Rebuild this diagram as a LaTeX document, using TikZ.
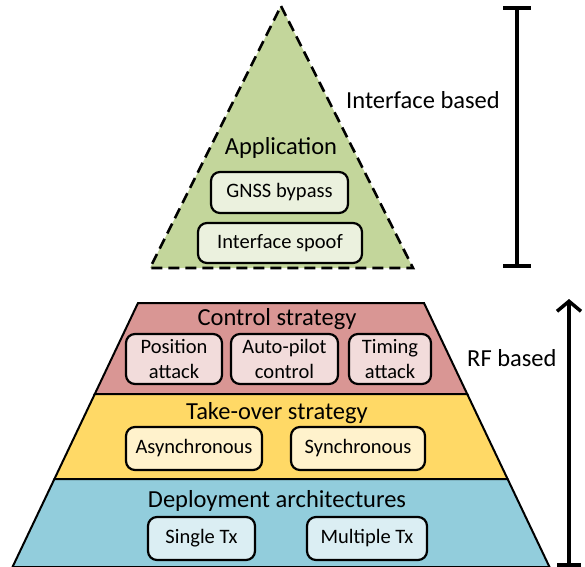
\documentclass[tikz,border=0pt]{standalone}
\usepackage{fontspec}
\setmainfont{Carlito}
\usepackage{tikz}
\usetikzlibrary{positioning,arrows.meta,calc}
\definecolor{appgreen}{HTML}{C3D69B}
\definecolor{appbox}{HTML}{EBF1DE}
\definecolor{ctrlred}{HTML}{D99694}
\definecolor{ctrlbox}{HTML}{F2DCDB}
\definecolor{takeyel}{HTML}{FFD966}
\definecolor{takebox}{HTML}{FFF2CC}
\definecolor{depblue}{HTML}{92CDDC}
\definecolor{depbox}{HTML}{DBEEF3}
\tikzset{
  layer/.style={draw=black,line width=2pt,line join=miter},
  layerlbl/.style={font=\fontsize{24.5}{26}\selectfont,inner sep=0pt},
  itembox/.style={draw=black,rounded corners=9pt,line width=2.2pt,
    font=\fontsize{20.5}{24.5}\selectfont,align=center,inner sep=0pt},
  sidelbl/.style={font=\fontsize{24.5}{26}\selectfont,anchor=west,inner sep=0pt},
  brace/.style={line width=3.5pt},
}

\begin{document}
\begin{tikzpicture}[x=1pt,y=-1pt]
  \useasboundingbox (0,0) rectangle (585,566);
  % application pyramid top
  \draw[layer,line width=2.6pt,fill=appgreen,dash pattern=on 11pt off 6pt]
    (281,6) -- (413,268) -- (150,268) -- cycle;
  \node[layerlbl] (app) at (281,148) {Application};
  \node[itembox,fill=appbox,minimum width=137pt,minimum height=41pt]
    (gnss) at (279.5,192.5) {GNSS bypass};
  \node[itembox,fill=appbox,minimum width=164pt,minimum height=40pt]
    (spoof) at (280,243) {Interface spoof};
  % RF layers
  \draw[layer,fill=ctrlred] (138,303) -- (424,303) -- (467.2,394)
    -- (94.8,394) -- cycle;
  \draw[layer,fill=takeyel] (94.8,394) -- (467.2,394) -- (507.6,479)
    -- (54.4,479) -- cycle;
  \draw[layer,fill=depblue] (54.4,479) -- (507.6,479) -- (549.5,567)
    -- (12.5,567) -- cycle;
  \node[layerlbl] (ctrl) at (277,319) {Control strategy};
  \node[itembox,fill=ctrlbox,minimum width=96pt,minimum height=50pt]
    (pos) at (174,359) {Position\\attack};
  \node[itembox,fill=ctrlbox,minimum width=107pt,minimum height=50pt]
    (auto) at (284.5,359) {Auto-pilot\\control};
  \node[itembox,fill=ctrlbox,minimum width=82pt,minimum height=50pt]
    (timing) at (390,359) {Timing\\attack};
  \node[layerlbl] (take) at (277,413) {Take-over strategy};
  \node[itembox,fill=takebox,minimum width=136pt,minimum height=43pt]
    (async) at (194,448.5) {Asynchronous};
  \node[itembox,fill=takebox,minimum width=134pt,minimum height=43pt]
    (sync) at (358,448.5) {Synchronous};
  \node[layerlbl] (deploy) at (277,501) {Deployment architectures};
  \node[itembox,fill=depbox,minimum width=107pt,minimum height=43pt]
    (single) at (201.5,538.5) {Single Tx};
  \node[itembox,fill=depbox,minimum width=120pt,minimum height=43pt]
    (multi) at (367,538.5) {Multiple Tx};
  % side brackets
  \coordinate (ifTop) at (517,8);
  \coordinate (ifBot) at (517,266);
  \draw[brace] (ifTop) -- (ifBot);
  \draw[brace] ($(ifTop)+(-14,0)$) -- ($(ifTop)+(14,0)$);
  \draw[brace] ($(ifBot)+(-14,0)$) -- ($(ifBot)+(14,0)$);
  \node[sidelbl] (iflbl) at (346,100) {Interface based};
  \coordinate (rfTop) at (569,299);
  \coordinate (rfBot) at (569,565);
  \draw[brace,-{Straight Barb[length=10pt,width=24pt,line width=3.5pt]}]
    (rfBot) -- (rfTop);
  \draw[brace] ($(rfBot)+(-12,0)$) -- ($(rfBot)+(12,0)$);
  \node[sidelbl] (rflbl) at (467,358) {RF based};
\end{tikzpicture}
\end{document}
